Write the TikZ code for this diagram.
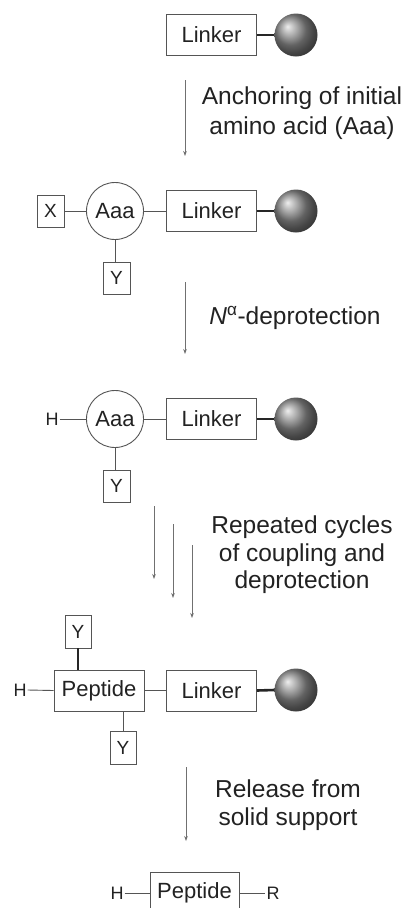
\documentclass[tikz,border=0pt]{standalone}
\usepackage{fontspec}
\setmainfont{Liberation Sans}
\usetikzlibrary{arrows.meta}
\definecolor{boxc}{HTML}{555555}
\definecolor{txt}{HTML}{222222}
\definecolor{arrc}{HTML}{707070}
\tikzset{
  box/.style={draw=boxc, line width=0.9pt, inner sep=0pt, minimum width=90pt, minimum height=41pt, font=\fontsize{22}{26}\selectfont, text=txt},
  sbox/.style={draw=boxc, line width=0.9pt, inner sep=0pt, minimum width=27pt, minimum height=32pt, font=\fontsize{19}{22}\selectfont, text=txt},
  aa/.style={circle, draw=boxc, line width=0.9pt, inner sep=0pt, minimum size=57pt, font=\fontsize{22}{26}\selectfont, text=txt},
  bead/.style={circle, shading=ball, ball color=black!45, inner sep=0pt, minimum size=43pt},
  bond/.style={draw=boxc, line width=0.9pt},
  heavy/.style={draw=black!85, line width=2.6pt},
  rxn/.style={draw=arrc, line width=0.7pt, -{Stealth[length=5pt,width=3.6pt]}},
  lbl/.style={align=center, font=\fontsize{24.5}{30}\selectfont, text=txt, inner sep=0pt},
  lbltight/.style={align=center, font=\fontsize{24.5}{27.5}\selectfont, text=txt, inner sep=0pt},
  atom/.style={font=\fontsize{18}{20}\selectfont, text=txt, inner sep=1pt},
}
\begin{document}
\begin{tikzpicture}[x=1pt,y=-1pt]
\useasboundingbox (0,0) rectangle (406,908);
\fill[white] (0,0) rectangle (406,908);

% Row 1
\node[box] (L1) at (211.5,35) {Linker};
\node[bead] (B1) at (296,35) {};
\draw[heavy] (L1.east) -- (B1.west);

% Arrow 1
\coordinate (a1s) at (185,80);
\coordinate (a1e) at (185,156);
\draw[rxn] (a1s) -- (a1e);
\node[lbl] (t1) at (302,113) {Anchoring of initial\\amino acid (Aaa)};

% Row 2
\node[sbox] (X2) at (50.5,211) {X};
\node[aa] (A2) at (115,211) {Aaa};
\node[box] (L2) at (211.5,211) {Linker};
\node[bead] (B2) at (296,211) {};
\node[sbox] (Y2) at (116.5,278) {Y};
\draw[bond] (X2.east) -- (A2.west);
\draw[bond] (A2.east) -- (L2.west);
\draw[heavy] (L2.east) -- (B2.west);
\draw[bond] (A2.south) -- (A2.south |- Y2.north);

% Arrow 2
\coordinate (a2s) at (185,282);
\coordinate (a2e) at (185,354);
\draw[rxn] (a2s) -- (a2e);
\node[lbl] (t2) at (295,318) {\textit{N}\textsuperscript{α}-deprotection};

% Row 3
\node[atom] (H3) at (52,419) {H};
\node[aa] (A3) at (115,419) {Aaa};
\node[box] (L3) at (211.5,419) {Linker};
\node[bead] (B3) at (296,419) {};
\node[sbox] (Y3) at (116.5,486) {Y};
\draw[bond] (H3.east) -- (A3.west);
\draw[bond] (A3.east) -- (L3.west);
\draw[heavy] (L3.east) -- (B3.west);
\draw[bond] (A3.south) -- (A3.south |- Y3.north);

% Arrows 3
\coordinate (a3s) at (154,506);
\coordinate (a3e) at (154,579);
\coordinate (a4s) at (173,524);
\coordinate (a4e) at (173,598);
\coordinate (a5s) at (192,545);
\coordinate (a5e) at (192,618);
\draw[rxn] (a3s) -- (a3e);
\draw[rxn] (a4s) -- (a4e);
\draw[rxn] (a5s) -- (a5e);
\node[lbltight] (t3) at (302,555) {Repeated cycles\\of coupling and\\deprotection};

% Row 4
\node[atom] (H4) at (20,690) {H};
\node[box] (P4) at (99,690.5) {Peptide};
\node[box] (L4) at (211.5,690.5) {Linker};
\node[bead] (B4) at (296,690) {};
\node[sbox, minimum width=26pt, minimum height=33pt] (Y4a) at (78,631.5) {Y};
\node[sbox, minimum width=26pt, minimum height=33pt] (Y4b) at (123,747.5) {Y};
\draw[bond] (H4.east) -- (P4.west);
\draw[bond] (P4.east) -- (L4.west);
\draw[heavy] (L4.east) -- (B4.west);
\draw[heavy, line width=2.2pt] (Y4a.south) -- (Y4a.south |- P4.north);
\draw[bond] (Y4b.north |- P4.south) -- (Y4b.north);

% Arrow 4
\coordinate (a6s) at (186,767);
\coordinate (a6e) at (186,841);
\draw[rxn] (a6s) -- (a6e);
\node[lbltight] (t4) at (288,805) {Release from\\solid support};

% Row 5
\node[atom] (H5) at (117,893) {H};
\node[box, minimum width=89pt, minimum height=46pt] (P5) at (194.5,895) {};
\node[font=\fontsize{22}{26}\selectfont, text=txt, inner sep=0pt] (P5t) at (194.5,893) {Peptide};
\node[atom] (R5) at (273,893) {R};
\draw[bond] (H5.east) -- (H5.east -| P5.west);
\draw[bond] (R5.west -| P5.east) -- (R5.west);
\end{tikzpicture}
\end{document}
